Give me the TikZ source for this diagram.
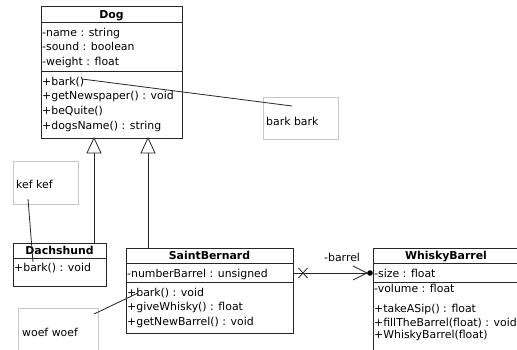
\documentclass[tikz,border=0pt]{standalone}
\usepackage{fontspec}
\setmainfont{DejaVu Sans}
\usetikzlibrary{arrows.meta}
\begin{document}
\begin{tikzpicture}[x=1pt,y=-1pt,
  font=\fontsize{10.9}{12}\selectfont,
  classbox/.style={draw=black!85,line width=0.8pt,anchor=north west,inner sep=0pt,outer sep=0pt},
  sep/.style={draw=black!85,line width=0.8pt},
  notebox/.style={draw=black!22,line width=0.8pt,anchor=north west,inner sep=0pt,outer sep=0pt},
  txt/.style={anchor=base west,inner sep=0pt},
  ttl/.style={anchor=base,inner sep=0pt,font=\fontsize{10.9}{12}\selectfont\bfseries},
  link/.style={draw=black!85,line width=0.8pt},
  gen/.style={draw=black!85,line width=0.8pt},
]
\clip (0,0) rectangle (517,349);
\fill[white] (0,0) rectangle (517,349);

% ---------- Dog ----------
\node[classbox,minimum width=141pt,minimum height=132pt] (dog) at (41,6) {};
\draw[sep] (41,22) -- (182,22);
\draw[sep] (41,71) -- (182,71);
\node[ttl] (dogT) at (111.5,18) {Dog};
\node[txt] (dogA1) at (42,36) {-name : string};
\node[txt] (dogA2) at (42,50.5) {-sound : boolean};
\node[txt] (dogA3) at (42,65) {-weight : float};
\node[txt] (dogM1) at (42,85) {+bark()};
\node[txt] (dogM2) at (42,99.5) {+getNewspaper() : void};
\node[txt] (dogM3) at (42,114) {+beQuite()};
\node[txt] (dogM4) at (42,129.5) {+dogsName() : string};

% ---------- notes ----------
\node[notebox,minimum width=75pt,minimum height=42pt] (noteBark) at (263,97) {};
\node[txt] (noteBarkT) at (266,125) {bark bark};
\node[notebox,minimum width=65pt,minimum height=43pt] (noteKef) at (13,161) {};
\node[txt] (noteKefT) at (16,188) {kef kef};
\node[notebox,minimum width=80pt,minimum height=60pt] (noteWoef) at (18,308) {};
\node[txt] (noteWoefT) at (22,336) {woef woef};

% ---------- Dachshund ----------
\node[classbox,minimum width=93pt,minimum height=43pt] (dachs) at (13,243) {};
\draw[sep] (13,258) -- (106,258);
\node[ttl] (dachsT) at (59.5,254) {Dachshund};
\node[txt] (dachsM1) at (14,271) {+bark() : void};

% ---------- SaintBernard ----------
\node[classbox,minimum width=167pt,minimum height=85pt] (saint) at (126,248) {};
\draw[sep] (126,263) -- (293,263);
\draw[sep] (126,282) -- (293,282);
\node[ttl] (saintT) at (209.5,259) {SaintBernard};
\node[txt] (saintA1) at (127,277) {-numberBarrel : unsigned};
\node[txt] (saintM1) at (127,296) {+bark() : void};
\node[txt] (saintM2) at (127,310.5) {+giveWhisky() : float};
\node[txt] (saintM3) at (127,325) {+getNewBarrel() : void};

% ---------- WhiskyBarrel ----------
\node[classbox,minimum width=170pt,minimum height=130pt] (whisky) at (373,248) {};
\draw[sep] (373,263) -- (543,263);
\draw[sep] (373,282) -- (543,282);
\node[ttl] (whiskyT) at (446,259) {WhiskyBarrel};
\node[txt] (whiskyA1) at (374,277) {-size : float};
\node[txt] (whiskyA2) at (374,292) {-volume : float};
\node[txt] (whiskyM1) at (374,312) {+takeASip() : float};
\node[txt] (whiskyM2) at (374,326) {+fillTheBarrel(float) : void};
\node[txt] (whiskyM3) at (374,338.5) {+WhiskyBarrel(float)};

% ---------- generalisations ----------
\coordinate (g1) at (94,0);
\coordinate (g2) at (148,0);
\foreach \c/\sub in {g1/dachs,g2/saint}{
  \draw[gen] (\sub.north -| \c) -- ([yshift=-15pt]dog.south -| \c);
  \draw[gen,fill=white] (dog.south -| \c) -- ++(-7,15) -- ++(14,0) -- cycle;
}

% ---------- note links ----------
\coordinate (barkFrom) at (82,79);
\coordinate (barkTo) at (292,106);
\draw[link] (barkFrom) -- (barkTo);
\coordinate (kefFrom) at (28,199);
\coordinate (kefTo) at (33,262);
\draw[link] (kefFrom) -- (kefTo);
\coordinate (woefFrom) at (94,314);
\coordinate (woefTo) at (138,293);
\draw[link] (woefFrom) -- (woefTo);

% ---------- association ----------
\coordinate (assocEnd) at (370,273);
\draw[link] (saint.east |- assocEnd) -- (assocEnd);
\draw[link] (353,266) -- (367,273) -- (353,280);
\fill[black] (assocEnd) circle (2.8pt);
\draw[link] (298.5,268) -- (307.5,278) (298.5,278) -- (307.5,268);
\node[txt] (barrelLbl) at (324,261) {-barrel};
\end{tikzpicture}
\end{document}
